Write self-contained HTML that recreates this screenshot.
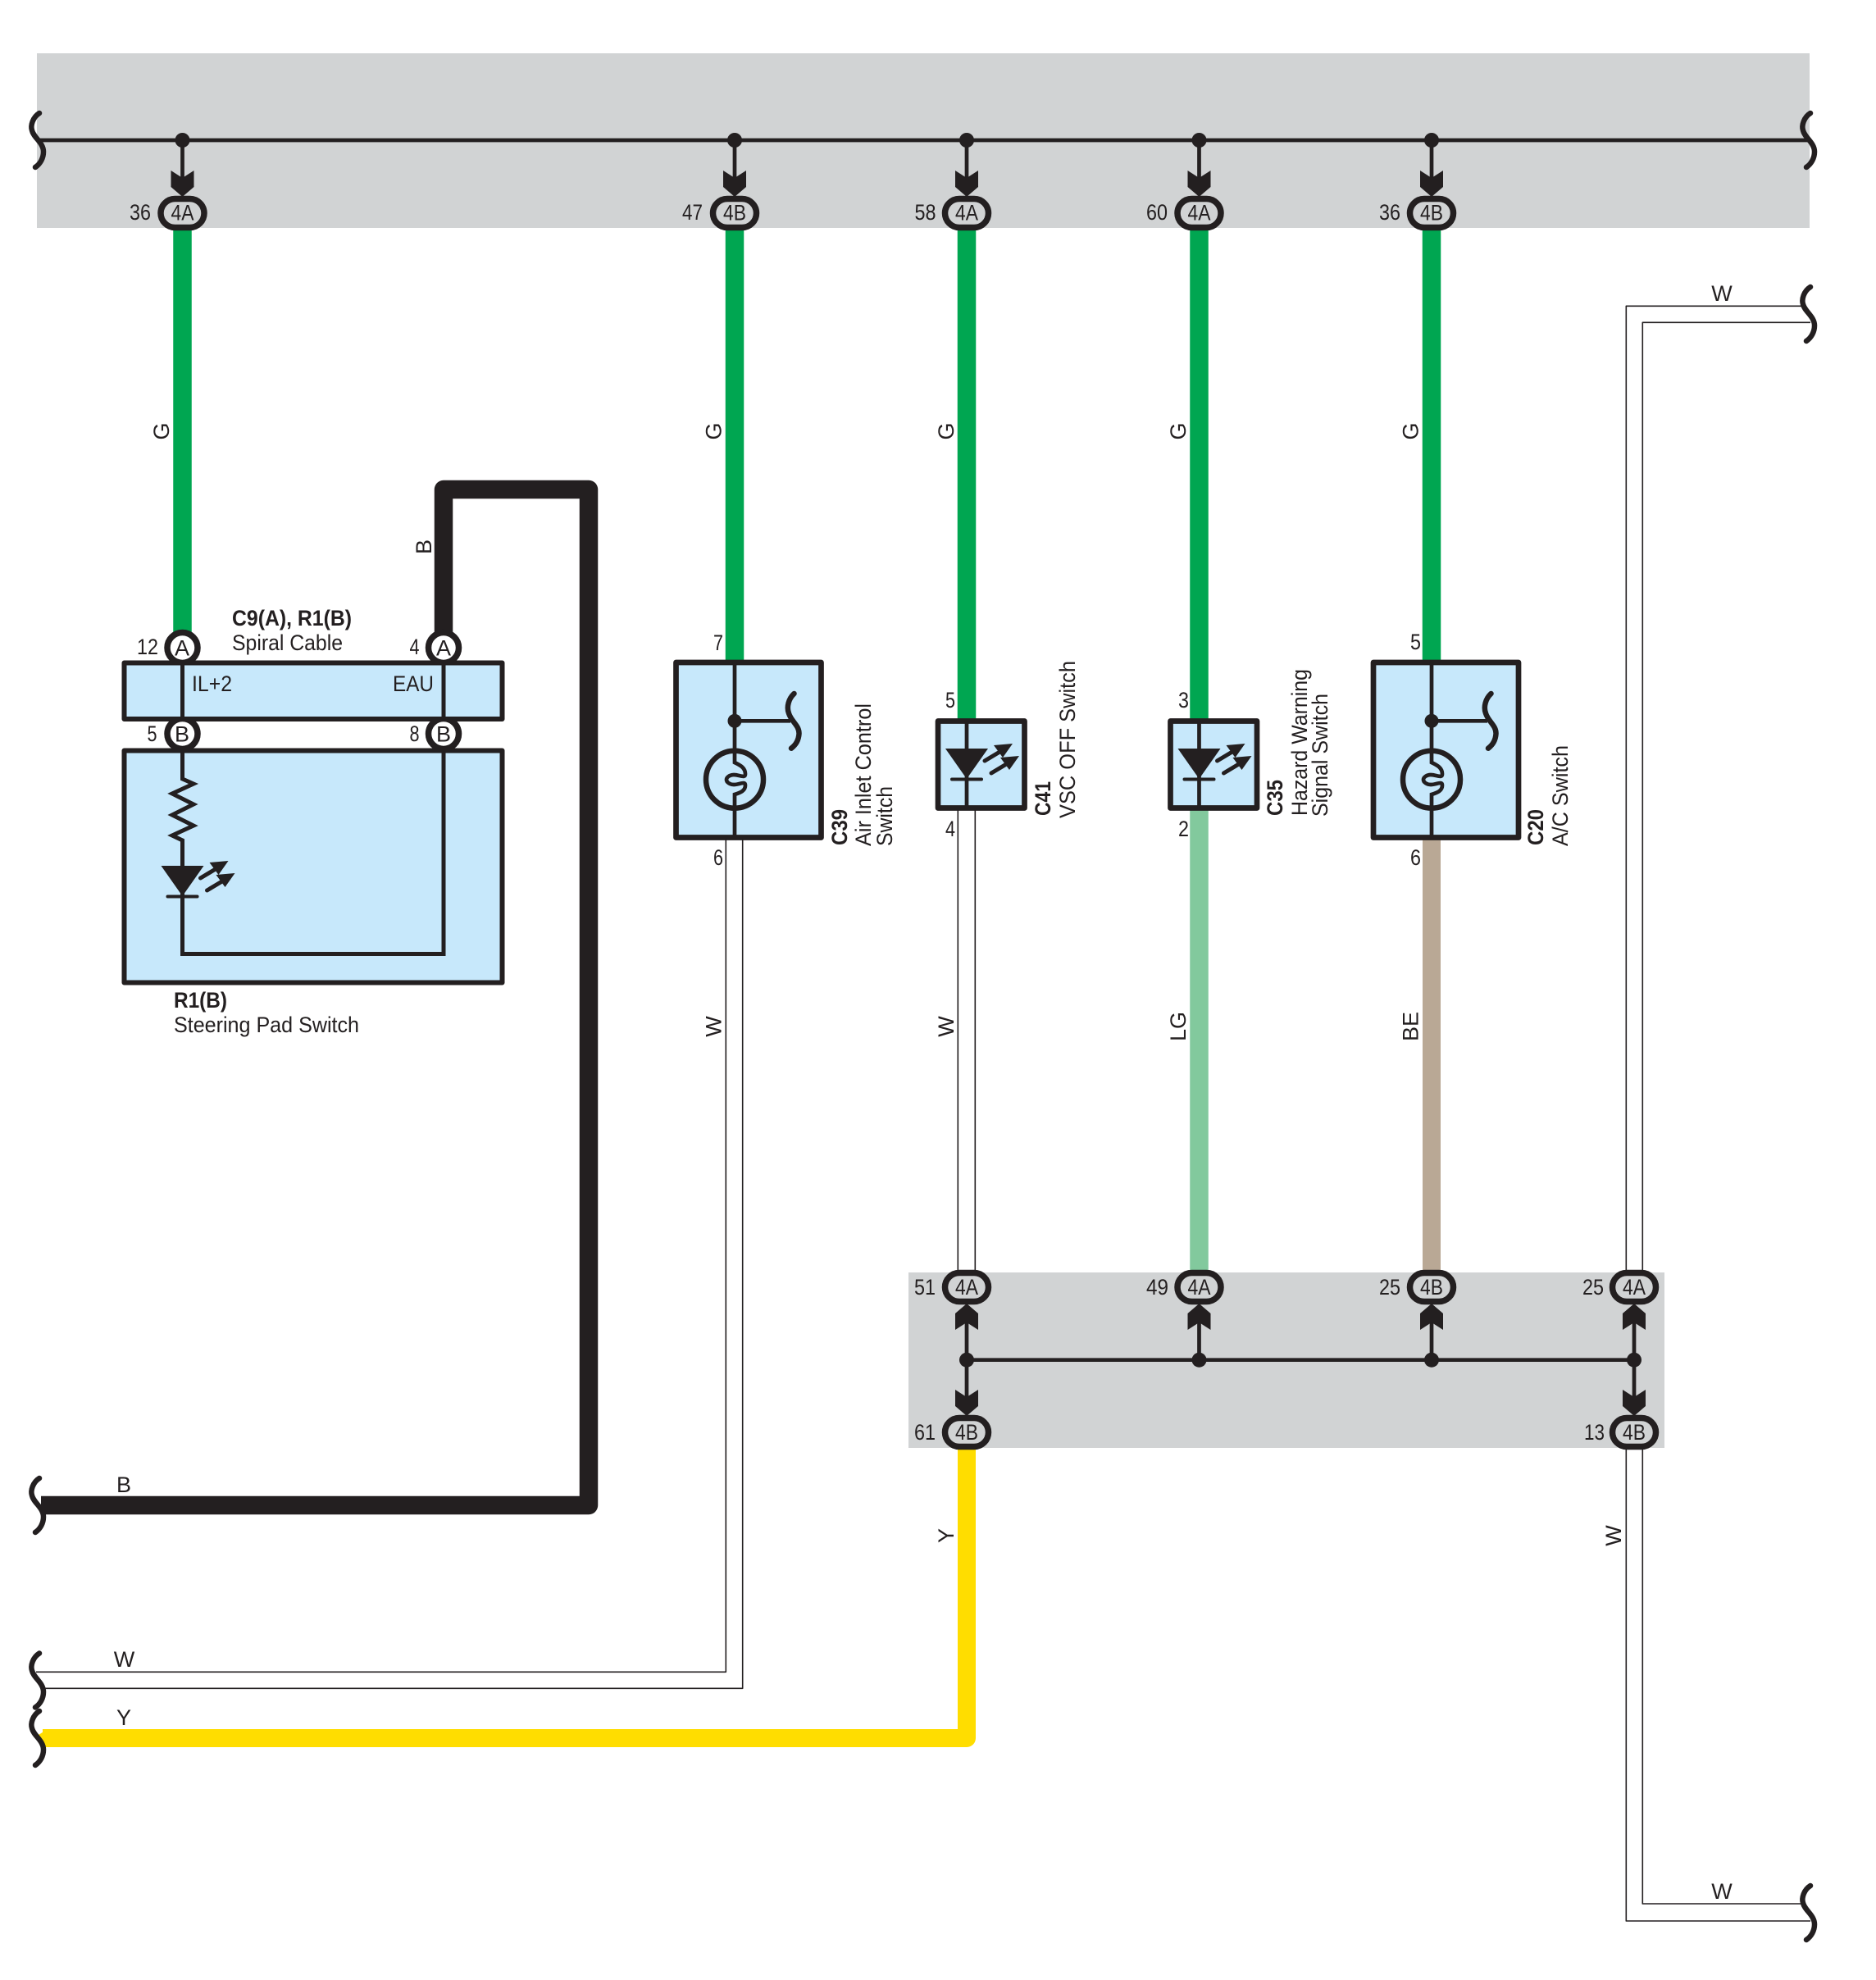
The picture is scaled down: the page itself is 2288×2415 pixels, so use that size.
<!DOCTYPE html>
<html><head><meta charset="utf-8"><style>
html,body{margin:0;padding:0;background:#fff}
svg{display:block}
text{font-family:"Liberation Sans",sans-serif;font-size:27px;fill:#231f20}
.b{font-weight:bold}
</style></head><body>
<svg xmlns="http://www.w3.org/2000/svg" width="2288" height="2415" viewBox="0 0 2288 2415">
<defs>
<g id="brk"><path d="M48 -33 C40 -28 37 -18 39 -12 C41 -3 53 3 53 14 C53 22 49 29 43 33" fill="none" stroke="#231f20" stroke-width="6.5" stroke-linecap="round"/></g>
<polygon id="ad" points="-14,-32 0,-23 14,-32 14,-12 0,0 -14,-12" fill="#231f20"/>
<polygon id="au" points="-14,32 0,23 14,32 14,12 0,0 -14,12" fill="#231f20"/>
<rect id="pill" x="-26.5" y="-17.5" width="53" height="35" rx="17.5" ry="17.5" fill="#d1d3d4" stroke="#231f20" stroke-width="7.5"/>
<circle id="pin" r="18.5" fill="#fff" stroke="#231f20" stroke-width="7.5"/>
<g id="led">
<polygon points="-26,0 26,0 0,37" fill="#231f20"/>
<rect x="-20" y="35.5" width="40" height="4" rx="2" fill="#231f20"/>
<g stroke="#231f20" stroke-width="5" fill="#231f20" stroke-linecap="round">
<line x1="22" y1="15" x2="42" y2="3"/>
<polygon points="56,-6 33,-4 44,11" stroke="none"/>
<line x1="30" y1="30" x2="50" y2="18"/>
<polygon points="64,9 41,11 52,26" stroke="none"/>
</g>
</g>
<g id="sw" fill="none" stroke="#231f20">
<path d="M0 808 V930 C6 933 13 936 13 944 C13 950 6 945 -1 945 C-6 945 -10 948 -10 951 C-10 954 -6 957 -1 957 C6 957 13 952 13 958 C13 965 6 967 0 969 V1021" stroke-width="4.7"/>
<circle cx="0" cy="950.7" r="35" stroke-width="6.5"/>
<circle cx="0" cy="879.3" r="8.5" fill="#231f20" stroke="none"/>
<line x1="0" y1="879.3" x2="68" y2="879.3" stroke-width="4.7"/>
<path d="M72.5 846 C66 852 63 862 66 870 C69 880 79 885 78.5 895 C78 903 74 909 69 912.7" stroke-width="6.5" stroke-linecap="round"/>
</g>
</defs>

<rect width="2288" height="2415" fill="#fff"/>
<rect x="45" y="65" width="2162" height="213" fill="#d1d3d4"/>
<rect x="1108" y="1552" width="922" height="214" fill="#d1d3d4"/>

<!-- wires -->
<g fill="none" stroke-linejoin="round">
<g stroke="#00a651" stroke-width="22.5">
<line x1="222.5" y1="270" x2="222.5" y2="775"/>
<line x1="896" y1="270" x2="896" y2="810"/>
<line x1="1179" y1="270" x2="1179" y2="882"/>
<line x1="1462.5" y1="270" x2="1462.5" y2="882"/>
<line x1="1746" y1="270" x2="1746" y2="810"/>
</g>
<line x1="1462.5" y1="985" x2="1462.5" y2="1560" stroke="#82c99d" stroke-width="22.5"/>
<line x1="1746" y1="1020" x2="1746" y2="1560" stroke="#b9a895" stroke-width="22"/>
<path d="M1179 1755 V2120 H52" stroke="#ffdd00" stroke-width="22"/>
<path d="M541 775 V597 H718 V1836 H50" stroke="#231f20" stroke-width="22.5"/>
<g stroke="#231f20" stroke-width="1.6">
<path d="M885.3 1022 V2039.3 H44"/>
<path d="M905.7 1022 V2059.3 H52"/>
<line x1="1168.3" y1="985" x2="1168.3" y2="1555"/>
<line x1="1189.3" y1="985" x2="1189.3" y2="1555"/>
<path d="M2198 373.3 H1983.3 V1555"/>
<path d="M2208 393.3 H2003.3 V1555"/>
<path d="M1983.3 1760 V2343 H2208"/>
<path d="M2003.3 1760 V2322 H2198"/>
</g>
</g>

<!-- wire end brackets -->
<polygon points="58,2109 47,2116 47,2124 58,2131" fill="#ffdd00"/>
<use href="#brk" transform="translate(0,171)"/>
<use href="#brk" transform="translate(2160,171)"/>
<use href="#brk" transform="translate(0,1836)"/>
<use href="#brk" transform="translate(0,2049.5)"/>
<use href="#brk" transform="translate(0,2120)"/>
<use href="#brk" transform="translate(2160,383)"/>
<use href="#brk" transform="translate(2160,2333)"/>

<!-- top bus -->
<g stroke="#231f20" stroke-width="4.7" fill="none">
<line x1="48" y1="171" x2="2205" y2="171"/>
<line x1="222.5" y1="171" x2="222.5" y2="225"/>
<line x1="896" y1="171" x2="896" y2="225"/>
<line x1="1179" y1="171" x2="1179" y2="225"/>
<line x1="1462.5" y1="171" x2="1462.5" y2="225"/>
<line x1="1746" y1="171" x2="1746" y2="225"/>
</g>
<g fill="#231f20">
<circle cx="222.5" cy="171" r="9"/><circle cx="896" cy="171" r="9"/><circle cx="1179" cy="171" r="9"/><circle cx="1462.5" cy="171" r="9"/><circle cx="1746" cy="171" r="9"/>
</g>
<use href="#ad" transform="translate(222.5,240)"/><use href="#ad" transform="translate(896,240)"/><use href="#ad" transform="translate(1179,240)"/><use href="#ad" transform="translate(1462.5,240)"/><use href="#ad" transform="translate(1746,240)"/>
<use href="#pill" transform="translate(222.5,260)"/><use href="#pill" transform="translate(896,260)"/><use href="#pill" transform="translate(1179,260)"/><use href="#pill" transform="translate(1462.5,260)"/><use href="#pill" transform="translate(1746,260)"/>

<!-- lower bus -->
<g stroke="#231f20" stroke-width="4.7" fill="none">
<line x1="1179" y1="1658.7" x2="1993" y2="1658.7"/>
<line x1="1179" y1="1610" x2="1179" y2="1710"/>
<line x1="1993" y1="1610" x2="1993" y2="1710"/>
<line x1="1462.5" y1="1610" x2="1462.5" y2="1658"/>
<line x1="1746" y1="1610" x2="1746" y2="1658"/>
</g>
<g fill="#231f20">
<circle cx="1179" cy="1658.7" r="9"/><circle cx="1462.5" cy="1658.7" r="9"/><circle cx="1746" cy="1658.7" r="9"/><circle cx="1993" cy="1658.7" r="9"/>
</g>
<use href="#au" transform="translate(1179,1590)"/><use href="#au" transform="translate(1462.5,1590)"/><use href="#au" transform="translate(1746,1590)"/><use href="#au" transform="translate(1993,1590)"/>
<use href="#ad" transform="translate(1179,1727)"/><use href="#ad" transform="translate(1993,1727)"/>
<use href="#pill" transform="translate(1179,1570)"/><use href="#pill" transform="translate(1462.5,1570)"/><use href="#pill" transform="translate(1746,1570)"/><use href="#pill" transform="translate(1993,1570)"/>
<use href="#pill" transform="translate(1179,1747)"/><use href="#pill" transform="translate(1993,1747)"/>

<!-- spiral cable + steering pad -->
<use href="#pin" transform="translate(222.5,790)"/><use href="#pin" transform="translate(541,790)"/>
<use href="#pin" transform="translate(222.5,895)"/><use href="#pin" transform="translate(541,895)"/>
<rect x="151.5" y="808.5" width="461" height="68.5" fill="#c7e8fb" stroke="#231f20" stroke-width="6" stroke-linejoin="round"/>
<rect x="151.5" y="915.5" width="461" height="283" fill="#c7e8fb" stroke="#231f20" stroke-width="6" stroke-linejoin="round"/>
<g fill="none" stroke="#231f20" stroke-width="5">
<line x1="222.5" y1="808" x2="222.5" y2="877"/>
<line x1="541" y1="808" x2="541" y2="877"/>
<path d="M222.5 915 V950 L236 956 L210 968 L236 981 L210 994 L236 1007 L210 1019 L222.5 1025 V1163.5 H541 V915"/>
</g>
<use href="#led" transform="translate(222.5,1056)"/>

<!-- C39 -->
<rect x="824.5" y="808" width="177" height="213.5" fill="#c7e8fb" stroke="#231f20" stroke-width="6.7" stroke-linejoin="round"/>
<use href="#sw" transform="translate(896,0)"/>
<!-- C20 -->
<rect x="1675" y="808" width="177" height="213.5" fill="#c7e8fb" stroke="#231f20" stroke-width="6.7" stroke-linejoin="round"/>
<use href="#sw" transform="translate(1746,0)"/>
<!-- C41 -->
<rect x="1144" y="879.5" width="105.5" height="106" fill="#c7e8fb" stroke="#231f20" stroke-width="6.7" stroke-linejoin="round"/>
<line x1="1179" y1="880" x2="1179" y2="985" stroke="#231f20" stroke-width="4.7"/>
<use href="#led" transform="translate(1179,913)"/>
<!-- C35 -->
<rect x="1427.5" y="879.5" width="105.5" height="106" fill="#c7e8fb" stroke="#231f20" stroke-width="6.7" stroke-linejoin="round"/>
<line x1="1462.5" y1="880" x2="1462.5" y2="985" stroke="#231f20" stroke-width="4.7"/>
<use href="#led" transform="translate(1462.5,913)"/>

<!-- pill labels -->
<g text-anchor="middle" font-size="26">
<text x="222.5" y="268.5" textLength="28" lengthAdjust="spacingAndGlyphs">4A</text>
<text x="896" y="268.5" textLength="28" lengthAdjust="spacingAndGlyphs">4B</text>
<text x="1179" y="268.5" textLength="28" lengthAdjust="spacingAndGlyphs">4A</text>
<text x="1462.5" y="268.5" textLength="28" lengthAdjust="spacingAndGlyphs">4A</text>
<text x="1746" y="268.5" textLength="28" lengthAdjust="spacingAndGlyphs">4B</text>
<text x="1179" y="1579" textLength="28" lengthAdjust="spacingAndGlyphs">4A</text>
<text x="1462.5" y="1579" textLength="28" lengthAdjust="spacingAndGlyphs">4A</text>
<text x="1746" y="1579" textLength="28" lengthAdjust="spacingAndGlyphs">4B</text>
<text x="1993" y="1579" textLength="28" lengthAdjust="spacingAndGlyphs">4A</text>
<text x="1179" y="1756" textLength="28" lengthAdjust="spacingAndGlyphs">4B</text>
<text x="1993" y="1756" textLength="28" lengthAdjust="spacingAndGlyphs">4B</text>
<text x="222" y="799.5">A</text>
<text x="541" y="799.5">A</text>
<text x="222" y="904.5">B</text>
<text x="541" y="904.5">B</text>
</g>

<!-- pin numbers -->
<g>
<text x="158" y="268" textLength="26" lengthAdjust="spacingAndGlyphs">36</text>
<text x="832" y="268" textLength="25" lengthAdjust="spacingAndGlyphs">47</text>
<text x="1115.5" y="268" textLength="26" lengthAdjust="spacingAndGlyphs">58</text>
<text x="1398" y="268" textLength="26" lengthAdjust="spacingAndGlyphs">60</text>
<text x="1682" y="268" textLength="26" lengthAdjust="spacingAndGlyphs">36</text>
<text x="1115" y="1579" textLength="26" lengthAdjust="spacingAndGlyphs">51</text>
<text x="1398" y="1579" textLength="27" lengthAdjust="spacingAndGlyphs">49</text>
<text x="1682" y="1579" textLength="26" lengthAdjust="spacingAndGlyphs">25</text>
<text x="1930" y="1579" textLength="26" lengthAdjust="spacingAndGlyphs">25</text>
<text x="1115" y="1756" textLength="26" lengthAdjust="spacingAndGlyphs">61</text>
<text x="1932" y="1756" textLength="25" lengthAdjust="spacingAndGlyphs">13</text>
<text x="167" y="798" textLength="26" lengthAdjust="spacingAndGlyphs">12</text>
<text x="499.5" y="798" textLength="12" lengthAdjust="spacingAndGlyphs">4</text>
<text x="179.5" y="904" textLength="12" lengthAdjust="spacingAndGlyphs">5</text>
<text x="499.5" y="904" textLength="12" lengthAdjust="spacingAndGlyphs">8</text>
<text x="870" y="793" textLength="12" lengthAdjust="spacingAndGlyphs">7</text>
<text x="870" y="1055" textLength="12" lengthAdjust="spacingAndGlyphs">6</text>
<text x="1153" y="863" textLength="12" lengthAdjust="spacingAndGlyphs">5</text>
<text x="1153" y="1020" textLength="12" lengthAdjust="spacingAndGlyphs">4</text>
<text x="1437" y="863" textLength="13" lengthAdjust="spacingAndGlyphs">3</text>
<text x="1437" y="1020" textLength="13" lengthAdjust="spacingAndGlyphs">2</text>
<text x="1720" y="792" textLength="13" lengthAdjust="spacingAndGlyphs">5</text>
<text x="1720" y="1055" textLength="13" lengthAdjust="spacingAndGlyphs">6</text>
</g>

<!-- component labels -->
<text class="b" x="283" y="763" textLength="146" lengthAdjust="spacingAndGlyphs">C9(A), R1(B)</text>
<text x="283" y="793" textLength="135" lengthAdjust="spacingAndGlyphs">Spiral Cable</text>
<text x="234" y="843" textLength="49" lengthAdjust="spacingAndGlyphs">IL+2</text>
<text x="479" y="843" textLength="50" lengthAdjust="spacingAndGlyphs">EAU</text>
<text class="b" x="212" y="1229" textLength="65" lengthAdjust="spacingAndGlyphs">R1(B)</text>
<text x="212" y="1259" textLength="226" lengthAdjust="spacingAndGlyphs">Steering Pad Switch</text>

<text class="b" transform="translate(1033,1031) rotate(-90)" textLength="44" lengthAdjust="spacingAndGlyphs">C39</text>
<text transform="translate(1062,1032) rotate(-90)" textLength="174" lengthAdjust="spacingAndGlyphs">Air Inlet Control</text>
<text transform="translate(1088,1032) rotate(-90)" textLength="73" lengthAdjust="spacingAndGlyphs">Switch</text>
<text class="b" transform="translate(1281,995) rotate(-90)" textLength="42" lengthAdjust="spacingAndGlyphs">C41</text>
<text transform="translate(1311,998) rotate(-90)" textLength="192" lengthAdjust="spacingAndGlyphs">VSC OFF Switch</text>
<text class="b" transform="translate(1564,995) rotate(-90)" textLength="44" lengthAdjust="spacingAndGlyphs">C35</text>
<text transform="translate(1594,995) rotate(-90)" textLength="179" lengthAdjust="spacingAndGlyphs">Hazard Warning</text>
<text transform="translate(1619,996) rotate(-90)" textLength="150" lengthAdjust="spacingAndGlyphs">Signal Switch</text>
<text class="b" transform="translate(1882,1031) rotate(-90)" textLength="44" lengthAdjust="spacingAndGlyphs">C20</text>
<text transform="translate(1912,1032) rotate(-90)" textLength="123" lengthAdjust="spacingAndGlyphs">A/C Switch</text>

<!-- wire labels -->
<g text-anchor="middle">
<text transform="translate(206,526) rotate(-90)">G</text>
<text transform="translate(879.5,526) rotate(-90)">G</text>
<text transform="translate(1163,526) rotate(-90)">G</text>
<text transform="translate(1446,526) rotate(-90)">G</text>
<text transform="translate(1729.5,526) rotate(-90)">G</text>
<text transform="translate(526,667) rotate(-90)">B</text>
<text transform="translate(879.5,1252) rotate(-90)">W</text>
<text transform="translate(1163,1252) rotate(-90)">W</text>
<text transform="translate(1446,1252) rotate(-90)">LG</text>
<text transform="translate(1729.5,1252) rotate(-90)">BE</text>
<text transform="translate(1163,1873) rotate(-90)">Y</text>
<text transform="translate(1977,1873) rotate(-90)">W</text>
<text x="151" y="1820">B</text>
<text x="151.5" y="2033">W</text>
<text x="151" y="2104">Y</text>
<text x="2100" y="367">W</text>
<text x="2100" y="2316">W</text>
</g>
</svg>
</body></html>
